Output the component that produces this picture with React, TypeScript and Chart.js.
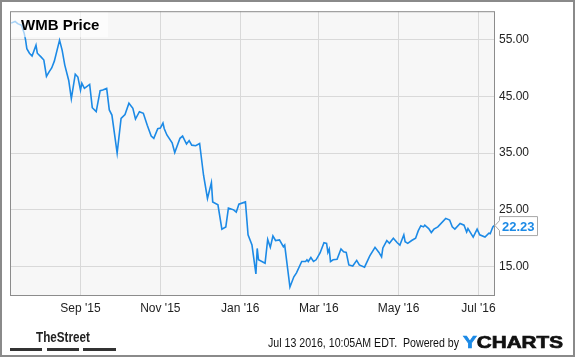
import React, { useEffect, useRef } from 'react';
import { Chart, registerables } from 'chart.js';

Chart.register(...registerables);

const SERIES_LABEL = 'WMB Price';

const DATES = [
  '2015-07-10', '2015-07-13', '2015-07-15', '2015-07-18', '2015-07-20', '2015-07-21', '2015-07-22', '2015-07-24',
  '2015-07-26', '2015-07-29', '2015-07-30', '2015-08-02', '2015-08-04', '2015-08-06', '2015-08-08', '2015-08-10',
  '2015-08-12', '2015-08-16', '2015-08-18', '2015-08-20', '2015-08-23', '2015-08-25', '2015-08-28', '2015-08-30',
  '2015-09-01', '2015-09-02', '2015-09-04', '2015-09-08', '2015-09-10', '2015-09-13', '2015-09-16', '2015-09-18',
  '2015-09-21', '2015-09-23', '2015-09-25', '2015-09-29', '2015-10-02', '2015-10-05', '2015-10-08', '2015-10-11',
  '2015-10-13', '2015-10-16', '2015-10-19', '2015-10-22', '2015-10-25', '2015-10-27', '2015-10-30', '2015-11-01',
  '2015-11-03', '2015-11-04', '2015-11-06', '2015-11-10', '2015-11-12', '2015-11-16', '2015-11-18', '2015-11-21',
  '2015-11-23', '2015-11-25', '2015-11-28', '2015-12-01', '2015-12-04', '2015-12-07', '2015-12-10', '2015-12-11',
  '2015-12-15', '2015-12-18', '2015-12-21', '2015-12-23', '2015-12-27', '2015-12-29', '2015-12-31', '2016-01-05',
  '2016-01-07', '2016-01-10', '2016-01-13', '2016-01-14', '2016-01-15', '2016-01-20', '2016-01-22', '2016-01-24',
  '2016-01-26', '2016-01-28', '2016-01-31', '2016-02-03', '2016-02-04', '2016-02-08', '2016-02-11', '2016-02-13',
  '2016-02-17', '2016-02-20', '2016-02-21', '2016-02-22', '2016-02-24', '2016-02-26', '2016-02-28', '2016-03-02',
  '2016-03-05', '2016-03-07', '2016-03-08', '2016-03-09', '2016-03-10', '2016-03-12', '2016-03-15', '2016-03-18',
  '2016-03-20', '2016-03-22', '2016-03-24', '2016-03-27', '2016-03-30', '2016-04-01', '2016-04-05', '2016-04-09',
  '2016-04-13', '2016-04-16', '2016-04-18', '2016-04-19', '2016-04-22', '2016-04-24', '2016-04-27', '2016-04-30',
  '2016-05-02', '2016-05-05', '2016-05-06', '2016-05-08', '2016-05-11', '2016-05-14', '2016-05-16', '2016-05-18',
  '2016-05-20', '2016-05-21', '2016-05-24', '2016-05-26', '2016-05-28', '2016-05-31', '2016-06-06', '2016-06-09',
  '2016-06-11', '2016-06-13', '2016-06-17', '2016-06-20', '2016-06-22', '2016-06-23', '2016-06-27', '2016-06-30',
  '2016-07-02', '2016-07-06', '2016-07-09', '2016-07-10', '2016-07-12', '2016-07-13',
];

const PRICES = [
  57.9, 58.2, 57.8, 57.5, 56.1, 55.0, 53.4, 52.6,
  52.1, 54.0, 52.6, 51.9, 51.4, 48.5, 49.3, 50.0,
  51.2, 54.9, 53.1, 50.5, 47.8, 44.6, 48.9, 48.4,
  46.1, 47.3, 46.4, 47.1, 43.0, 42.3, 46.0, 46.1,
  46.4, 42.6, 41.7, 35.0, 41.1, 41.8, 43.8, 42.9,
  41.0, 42.3, 42.0, 39.9, 38.0, 37.6, 39.3, 39.4,
  40.3, 39.3, 38.2, 36.8, 35.1, 37.6, 38.0, 36.6,
  37.2, 36.4, 36.3, 36.7, 31.1, 27.0, 29.8, 26.4,
  25.9, 21.6, 22.0, 25.3, 25.0, 24.6, 26.0, 26.4,
  20.6, 18.8, 13.7, 18.2, 16.2, 15.6, 19.8, 18.4,
  20.4, 19.6, 19.7, 18.5, 18.8, 11.4, 13.2, 13.9,
  15.9, 15.9, 16.2, 15.9, 16.6, 15.9, 16.2, 17.4,
  19.2, 19.1, 17.5, 18.1, 15.9, 16.2, 16.3, 18.1,
  17.6, 17.5, 15.3, 15.1, 16.1, 15.3, 14.9, 16.9,
  18.4, 17.5, 16.7, 18.3, 19.6, 19.1, 20.0, 19.2,
  18.8, 20.6, 19.4, 19.1, 19.6, 20.0, 21.3, 22.2,
  22.0, 22.3, 21.7, 21.0, 21.6, 22.0, 23.5, 23.2,
  22.0, 21.6, 22.6, 22.3, 21.1, 21.7, 20.2, 21.6,
  20.6, 20.2, 20.9, 20.8, 22.0, 22.23,
];

const X_TICK_DATES = ['2015-09-01', '2015-11-01', '2016-01-01', '2016-03-01', '2016-05-01', '2016-07-01'];
const X_TICK_LABELS = ["Sep '15", "Nov '15", "Jan '16", "Mar '16", "May '16", "Jul '16"];
const Y_TICKS = [15, 25, 35, 45, 55];
const X_RANGE = ['2015-07-09', '2016-07-13'];

const FOOTER_BRAND = 'TheStreet';
const FOOTER_STAMP = 'Jul 13 2016, 10:05AM EDT.  Powered by';
const LOGO_A = 'Y';
const LOGO_B = 'CHARTS';

const FONT = "'Liberation Sans', Arial, Helvetica, sans-serif";
const BLUE = '#1c8ae6';
const DAY_MS = 86400000;

const toDay = (s: string) => {
  const [y, m, d] = s.split('-').map(Number);
  return Date.UTC(y, m - 1, d) / DAY_MS;
};

function fitText(ctx: CanvasRenderingContext2D, text: string, x: number, y: number, width: number) {
  const w = ctx.measureText(text).width;
  ctx.save();
  ctx.translate(x, y);
  ctx.scale(width / w, 1);
  ctx.fillText(text, 0, 0);
  ctx.restore();
}

const decor = {
  id: 'decor',
  beforeDraw(chart: any) {
    const { ctx, chartArea: a } = chart;
    ctx.save();
    ctx.fillStyle = '#f7f7f7';
    ctx.fillRect(a.left, a.top, a.right - a.left, a.bottom - a.top);
    ctx.restore();
  },
  afterDraw(chart: any) {
    const { ctx, chartArea: a } = chart;
    ctx.save();

    // legend box
    ctx.fillStyle = 'rgba(255,255,255,0.62)';
    ctx.fillRect(a.left, a.top, 98, 26);
    ctx.fillStyle = '#000';
    ctx.font = `bold 15px ${FONT}`;
    ctx.textBaseline = 'alphabetic';
    ctx.fillText(SERIES_LABEL, a.left + 11, a.top + 18.5);

    // plot border
    ctx.strokeStyle = '#8c8c8c';
    ctx.lineWidth = 1;
    ctx.strokeRect(a.left + 0.5, a.top + 0.5, a.right - a.left - 1, a.bottom - a.top);

    // last value label
    const meta = chart.getDatasetMeta(0);
    const last = meta.data[meta.data.length - 1];
    const py = last.y;
    const left = a.right + 4;
    const w = 38;
    const h = 19;
    const top = py - h / 2;
    ctx.beginPath();
    ctx.moveTo(left + 0.5, top + 0.5);
    ctx.lineTo(left + w + 0.5, top + 0.5);
    ctx.lineTo(left + w + 0.5, top + h + 0.5);
    ctx.lineTo(left + 0.5, top + h + 0.5);
    ctx.lineTo(left + 0.5, py + 5);
    ctx.lineTo(a.right, py);
    ctx.lineTo(left + 0.5, py - 5);
    ctx.closePath();
    ctx.fillStyle = '#fff';
    ctx.fill();
    ctx.strokeStyle = '#a8a8a8';
    ctx.stroke();
    ctx.fillStyle = BLUE;
    ctx.font = `bold 13px ${FONT}`;
    const lastVal = PRICES[PRICES.length - 1].toFixed(2);
    ctx.fillText(lastVal, left + 3, py + 5);

    // outer border
    ctx.strokeStyle = '#8a8a8a';
    ctx.lineWidth = 2;
    ctx.strokeRect(1, 1, chart.width - 2, chart.height - 3);

    // footer: brand
    ctx.fillStyle = '#222';
    ctx.font = `bold 15px ${FONT}`;
    fitText(ctx, FOOTER_BRAND, 36, 341.5, 54);
    ctx.fillStyle = '#333';
    ctx.fillRect(10, 348, 32, 3);
    ctx.fillRect(47, 348, 32, 3);
    ctx.fillRect(83, 348, 33, 3);

    // footer: stamp
    ctx.fillStyle = '#111';
    ctx.font = `12px ${FONT}`;
    fitText(ctx, FOOTER_STAMP, 268, 347, 191);

    // footer: logo
    ctx.font = `bold 17px ${FONT}`;
    const full = ctx.measureText(LOGO_A + LOGO_B).width;
    const k = 100 / full;
    const wa = ctx.measureText(LOGO_A).width * k;
    ctx.fillStyle = BLUE;
    ctx.strokeStyle = BLUE;
    ctx.lineWidth = 0.7;
    ctx.save();
    ctx.translate(463, 347.5);
    ctx.scale(k, 1);
    ctx.fillText(LOGO_A, 0, 0);
    ctx.strokeText(LOGO_A, 0, 0);
    ctx.restore();
    ctx.fillStyle = '#111';
    ctx.strokeStyle = '#111';
    ctx.save();
    ctx.translate(463 + wa, 347.5);
    ctx.scale(k, 1);
    ctx.fillText(LOGO_B, 0, 0);
    ctx.strokeText(LOGO_B, 0, 0);
    ctx.restore();

    ctx.restore();
  },
};

export default function App() {
  const ref = useRef<HTMLCanvasElement | null>(null);

  useEffect(() => {
    document.body.style.margin = '0';
    const canvas = ref.current;
    if (!canvas) return;
    const points = DATES.map((d, i) => ({ x: toDay(d), y: PRICES[i] }));
    const chart = new Chart(canvas, {
      type: 'line',
      data: {
        datasets: [
          {
            label: SERIES_LABEL,
            data: points,
            borderColor: BLUE,
            borderWidth: 1.6,
            pointRadius: 0,
            tension: 0,
            fill: false,
          },
        ],
      },
      options: {
        animation: false,
        responsive: false,
        maintainAspectRatio: false,
        devicePixelRatio: 1,
        layout: { padding: { left: 10, top: 10, right: 0, bottom: 0 } },
        plugins: { legend: { display: false }, tooltip: { enabled: false } },
        scales: {
          x: {
            type: 'linear',
            min: toDay(X_RANGE[0]) + 0.14,
            max: toDay(X_RANGE[1]) + 0.66,
            grid: { color: '#d9d9d9', drawTicks: false, lineWidth: 1 },
            border: { display: false },
            afterBuildTicks: (s: any) => {
              s.ticks = X_TICK_DATES.map((d) => ({ value: toDay(d) }));
            },
            ticks: {
              callback: (_v: any, i: number) => X_TICK_LABELS[i],
              padding: 6,
              color: '#222',
              font: { family: FONT, size: 12 },
              maxRotation: 0,
              autoSkip: false,
            },
            afterFit: (s: any) => {
              s.height = 63;
            },
          },
          y: {
            position: 'right',
            min: 10,
            max: 60,
            grid: { color: '#d9d9d9', drawTicks: false, lineWidth: 1 },
            border: { display: false },
            afterBuildTicks: (s: any) => {
              s.ticks = Y_TICKS.map((v) => ({ value: v }));
            },
            ticks: {
              callback: (v: any) => Number(v).toFixed(2),
              padding: 4,
              color: '#222',
              font: { family: FONT, size: 12 },
            },
            afterFit: (s: any) => {
              s.width = 80;
            },
          },
        },
      },
      plugins: [decor],
    });
    return () => chart.destroy();
  }, []);

  return (
    <div style={{ width: 575, height: 358, background: '#fff' }}>
      <canvas ref={ref} width={575} height={358} style={{ display: 'block' }} />
    </div>
  );
}
